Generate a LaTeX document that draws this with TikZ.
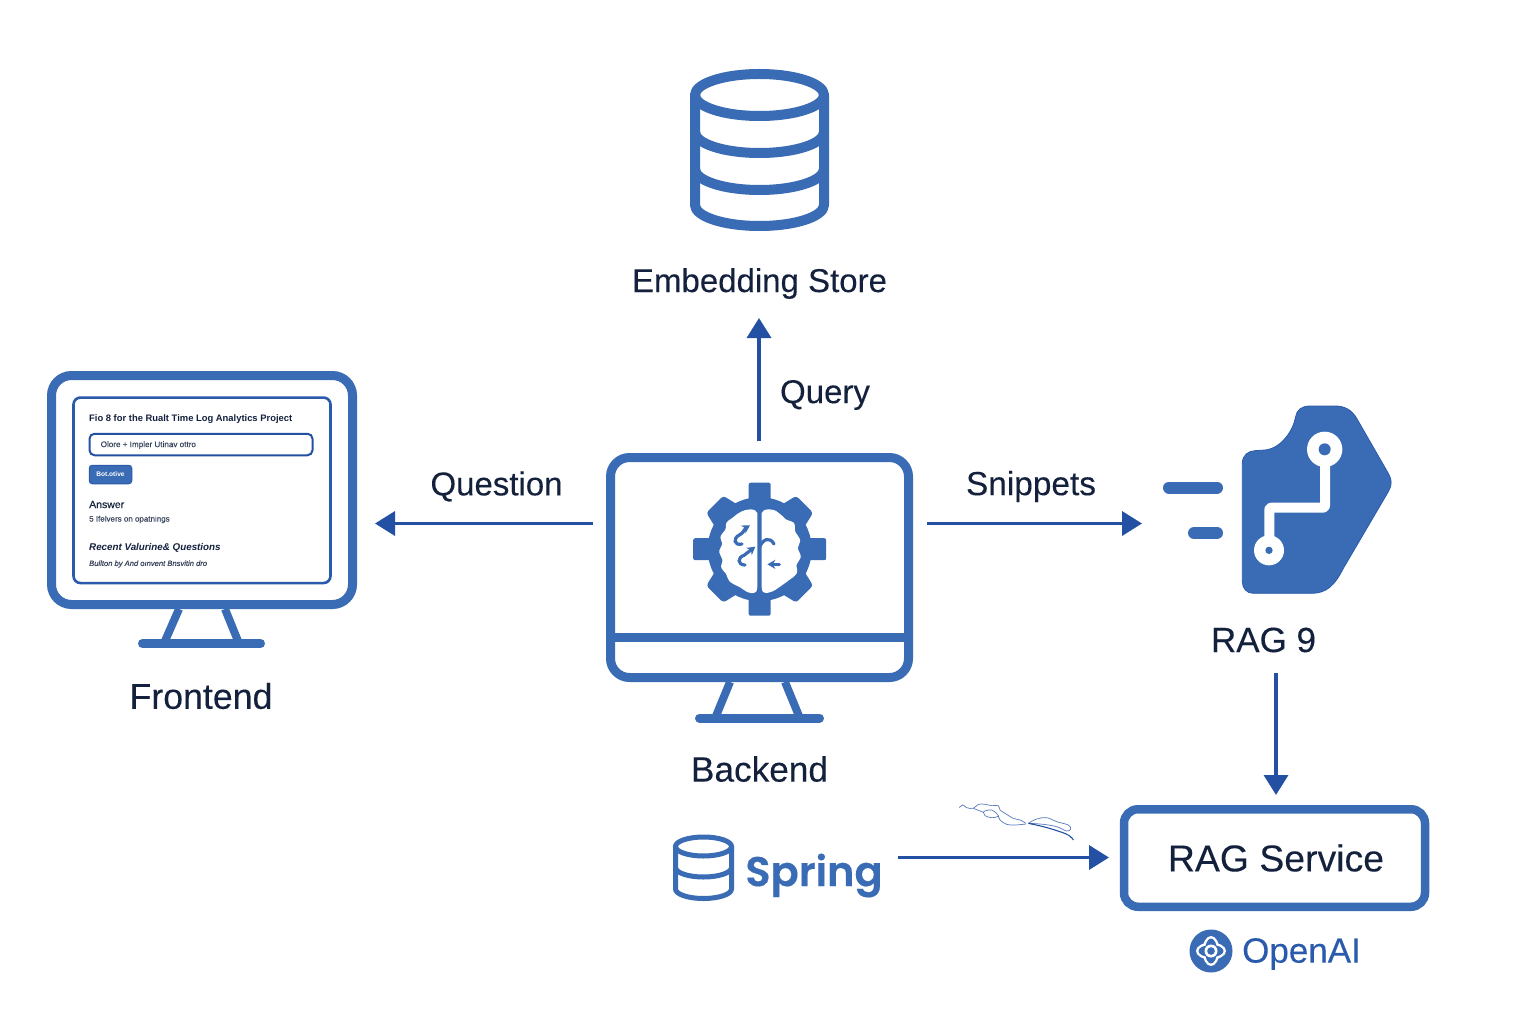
\documentclass[tikz,border=0pt]{standalone}
\usepackage{fontspec}
\setmainfont[FakeBold=0.15]{Liberation Sans}
\newfontfamily\plainf{Liberation Sans}
\newfontfamily\spr[FakeBold=0.3]{Poppins SemiBold}
\usetikzlibrary{arrows.meta}
\definecolor{ib}{HTML}{3A6BB5}
\definecolor{ibd}{HTML}{2A5AAB}
\definecolor{ink}{HTML}{14213D}
\definecolor{arr}{HTML}{2450A4}
\newcommand{\fsz}[1]{\fontsize{#1}{#1}\selectfont}
\tikzset{
 x=1pt,y=-1pt,
 conn/.style={draw=arr,line width=3.5pt,-{Triangle[length=20pt,width=24pt]}},
 lab/.style={text=ink,inner sep=0pt},
 ui/.style={text=ink,inner sep=0pt,anchor=west},
 icon/.style={draw=ib,line width=9pt,line cap=round,line join=round},
 screen/.style={draw=ib,line width=9pt,rounded corners=20pt,inner sep=0pt,fill=white},
 dbarc/.style={start angle=180,end angle=0,x radius=64.5,y radius=21},
}
\begin{document}
\begin{tikzpicture}
\useasboundingbox (0,0) rectangle (1536,1024);
\fill[white] (0,0) rectangle (1536,1024);
% Embedding store
\draw[icon,line width=10pt] (695,95) -- (695,205) arc[dbarc] -- (824,95);
\draw[icon,line width=10pt,line cap=butt] (695,132) arc[dbarc];
\draw[icon,line width=10pt,line cap=butt] (695,169) arc[dbarc];
\draw[icon,line width=10pt] (759.5,95) ellipse[x radius=64.5,y radius=21];
\node[lab,font=\fsz{33}] (store) at (759.5,283.5) {Embedding Store};
% Frontend
\node[screen,minimum width=301pt,minimum height=229pt] (fe) at (202,490) {};
\draw[icon,line cap=butt,line width=8pt] (179,609) -- (165,641) (225,609) -- (238,641);
\draw[icon] (142.5,643.5) -- (260.5,643.5);
\node[draw=ibd,line width=2.6pt,rounded corners=7pt,minimum width=257pt,minimum height=185.5pt,inner sep=0pt] (panel) at (202,490.3) {};
\node[ui,font=\fsz{9.4}\plainf\bfseries] (t1) at (89,419.5) {Fio 8 for the Rualt Time Log Analytics Project};
\node[draw=arr,line width=2pt,rounded corners=5pt,minimum width=223pt,minimum height=21.5pt,inner sep=0pt] (inp) at (201,444.5) {};
\node[ui,font=\fsz{8.1},text=ink!85] (t2) at (100.5,445) {Olore + Impler Utinav ottro};
\node[fill=ib,draw=ibd,line width=1pt,rounded corners=3pt,minimum width=42.5pt,minimum height=18.5pt,inner sep=0pt,text=white,font=\fsz{6.6}\plainf\bfseries] (btn) at (110.5,474.5) {Bot.otive};
\node[ui,font=\fsz{10.5}] (t3) at (89,504.5) {Answer};
\node[ui,font=\fsz{8},text=ink!85] (t4) at (89,519.5) {5 Ifelvers on opatnings};
\node[ui,font=\fsz{9.8}\plainf\bfseries\itshape] (t5) at (89,548) {Recent Valurine\& Questions};
\node[ui,font=\fsz{7.6}\itshape,text=ink!85] (t6) at (89,564) {Bullton by And oınvent Bnsvitin dro};
\node[lab,font=\fsz{35.7}] (felab) at (201,696) {Frontend};
% Backend
\node[screen,rounded corners=19pt,minimum width=298pt,minimum height=220pt] (be) at (759.5,567.5) {};
\draw[draw=ib,line width=9pt] (611,637) -- (908,637);
\draw[icon,line width=8pt,line cap=butt] (730,682) -- (716,716) (785,682) -- (799,716);
\draw[icon] (699.5,718) -- (819.5,718);
\node[lab,font=\fsz{35.2}] (belab) at (759.5,769) {Backend};
% gear
\begin{scope}[shift={(759.7,549.2)}]
\fill[ib] (0,0) circle[radius=52];
\foreach \a in {0,90,180,270}{
 \fill[ib,rotate=\a,rounded corners=2pt] (-11,-40) rectangle (11,-66.5);
}
\foreach \a in {45,135,225,315}{
 \fill[ib,rotate=\a,rounded corners=3pt] (-17,-42) -- (-12,-63.5) -- (12,-63.5) -- (17,-42) -- cycle;
}
\end{scope}
\begin{scope}[shift={(680,470)},scale=1/3]
\fill[white,rounded corners=1pt] plot[smooth,tension=.75] coordinates {(232,132)(222,120)(198,120)(175,130)(158,143)(140,158)(136,178)(122,200)(126,222)(118,245)(127,270)(124,292)(138,312)(150,335)(180,352)(205,367)(225,367)(232,352)} -- cycle;
\fill[white,rounded corners=1pt] plot[smooth,tension=.75] coordinates {(245,132)(255,120)(280,120)(300,132)(318,148)(342,160)(346,185)(360,210)(354,235)(362,260)(350,285)(350,310)(325,332)(300,350)(275,365)(252,367)(245,352)} -- cycle;
\begin{scope}[draw=ib,line width=3.2pt,line cap=round]
\draw[-{Stealth[length=8pt,width=9pt]}] (186,222) .. controls (162,228) and (158,205) .. (178,195) .. controls (195,186) and (190,178) .. (210,166);
\draw[-{Stealth[length=8pt,width=9pt]}] (195,285) .. controls (172,285) and (172,262) .. (192,256) -- (226,230);
\draw (238,232) .. controls (250,205) and (270,200) .. (282,222);
\draw[-{Stealth[length=8pt,width=9pt]}] (298,283) -- (262,283);
\end{scope}
\end{scope}
% RAG icon
\begin{scope}[shift={(1150,395)},scale=1/3]
\fill[ib,draw=ibd,line width=.8pt] (277,205) .. controls (277,180) and (295,168) .. (315,167) -- (345,165) .. controls (395,160) and (430,105) .. (437,65) .. controls (440,45) and (455,33) .. (480,33) -- (555,33) .. controls (585,33) and (605,45) .. (620,70) -- (712,230) .. controls (727,255) and (727,270) .. (712,295) -- (580,520) .. controls (555,570) and (530,595) .. (485,595) -- (310,595) .. controls (290,595) and (277,580) .. (277,560) -- cycle;
\draw[white,line width=10pt,line join=round,rounded corners=2pt] (525,163) -- (525,338) -- (358,338) -- (358,465);
\fill[white] (524,163) circle[radius=53];
\fill[ib] (524,163) circle[radius=18];
\fill[white] (357,466) circle[radius=45];
\fill[ib] (357,466) circle[radius=11];
\end{scope}
\draw[draw=ib,line width=12pt,line cap=round] (1169,487.5) -- (1217,487.5) (1194,533) -- (1217,533);
\node[lab,font=\fsz{35}] (raglab) at (1263.5,640) {RAG 9};
% RAG service
\node[draw=ib,line width=8.5pt,rounded corners=14pt,minimum width=301pt,minimum height=97.5pt,inner sep=0pt,text=ink,font=\fsz{37.4}] (svc) at (1274.5,858) {\hspace*{3pt}RAG Service};
% Spring
\begin{scope}[draw=ib,line width=5pt,line cap=round]
\draw (675.5,846.5) -- (675.5,889) arc[start angle=180,end angle=0,x radius=28,y radius=9.5] -- (731.5,846.5);
\draw[line cap=butt] (675.5,867.5) arc[start angle=180,end angle=0,x radius=28,y radius=9.5];
\draw (703.5,846.5) ellipse[x radius=28,y radius=9.5];
\end{scope}
\node[inner sep=0pt,text=ib,font=\spr\fsz{41.5}] (spring) at (814,875.5) {Spring};
% squiggle
\begin{scope}[shift={(950,795)},scale=1/3]
\draw[ibd!80,line width=.7pt,line join=round] plot[smooth,tension=.6] coordinates {(28,38)(38,30)(50,38)(70,40)(85,28)(105,28)(125,32)(145,32)(150,45)(165,55)(190,70)(210,75)(228,85)};
\draw[ibd!80,line width=.7pt] plot[smooth,tension=.6] coordinates {(70,40)(90,48)(100,52)(105,62)(125,68)(145,62)(125,45)(105,48)(100,52)};
\draw[ibd!80,line width=.7pt] plot[smooth,tension=.6] coordinates {(145,62)(150,75)(170,88)(195,90)(228,87)};
\draw[ibd!80,line width=.7pt] plot[smooth,tension=.6] coordinates {(235,85)(260,72)(290,68)(320,80)(355,90)(362,102)(350,108)(320,95)(280,88)(240,85)};
\draw[arr,line width=1.1pt] plot[smooth,tension=.6] coordinates {(235,85)(280,95)(330,110)(358,122)(370,135)};
\end{scope}
% OpenAI
\fill[ib] (1211,951) circle[radius=21.5];
\begin{scope}[shift={(1211,951)}]
\fill[white] (0,0) ellipse[x radius=15,y radius=8.5];
\fill[white] (0,0) ellipse[x radius=8.5,y radius=15];
\fill[ib] (0,0) ellipse[x radius=12.5,y radius=6];
\fill[ib] (0,0) ellipse[x radius=6,y radius=12.5];
\fill[white] (0,0) circle[radius=6.5];
\fill[ib] (0,0) circle[radius=3.8];
\end{scope}
\node[inner sep=0pt,text=ibd,font=\fsz{35}] (oai) at (1301.5,954) {OpenAI};
% connectors
\coordinate (qs) at (759,441);
\coordinate (qe) at (759,318);
\coordinate (ls) at (593,523.5);
\coordinate (le) at (375,523.5);
\coordinate (rs) at (927,523.5);
\coordinate (re) at (1142,523.5);
\coordinate (ds) at (1276,673);
\coordinate (de) at (1276,795);
\coordinate (ss) at (898,857.5);
\coordinate (se) at (1109,857.5);
\draw[conn] (qs) -- (qe);
\draw[conn] (ls) -- (le);
\draw[conn] (rs) -- (re);
\draw[conn] (ds) -- (de);
\draw[conn] (ss) -- (se);
\node[lab,font=\fsz{33}] (q) at (825,395) {Query};
\node[lab,font=\fsz{33}] (qu) at (496.5,486.5) {Question};
\node[lab,font=\fsz{33.4}] (sn) at (1031,486.5) {Snippets};
\end{tikzpicture}
\end{document}
